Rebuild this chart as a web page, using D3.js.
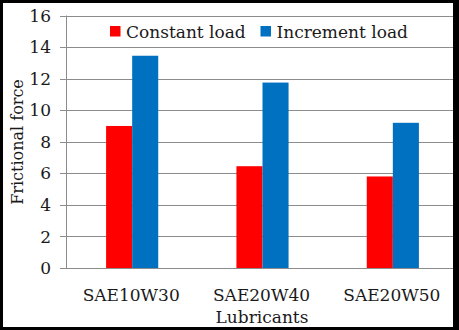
<!DOCTYPE html>
<html>
<head>
<meta charset="utf-8">
<script src="https://cdnjs.cloudflare.com/ajax/libs/d3/7.8.5/d3.min.js"></script>
<style>
  body { margin: 0; background: #fff; }
  svg { display: block; font-family: "DejaVu Serif", serif; }
</style>
</head>
<body>
<div id="chart"></div>
<script>
// chart data
const lubricants = ["SAE10W30", "SAE20W40", "SAE20W50"];
const seriesNames = ["Constant load", "Increment load"];
const constantLoad = [9.0, 6.45, 5.8];
const incrementLoad = [13.45, 11.75, 9.2];
const yTicks = [0, 2, 4, 6, 8, 10, 12, 14, 16];
const colors = ["#ff0000", "#0070c0"];

const width = 459, height = 330;

const svg = d3.select("#chart")
  .append("svg")
  .attr("width", width)
  .attr("height", height);

// scales
const x = d3.scaleBand()
  .domain(lubricants)
  .range([67, 458])
  .paddingInner(0.6)
  .paddingOuter(0.3);

const xSub = d3.scaleBand()
  .domain(seriesNames)
  .range([0, x.bandwidth()]);

const y = d3.scaleLinear()
  .domain([0, 16])
  .range([268, 15.5]);

// gridlines (they run past the axis as tick marks)
svg.append("g")
  .selectAll("line")
  .data(yTicks)
  .enter()
  .append("line")
  .attr("x1", 60)
  .attr("x2", 458)
  .attr("y1", d => Math.round(y(d)) + 0.5)
  .attr("y2", d => Math.round(y(d)) + 0.5)
  .attr("stroke", "#8c8c8c")
  .attr("stroke-width", 1);

// y axis line
svg.append("line")
  .attr("x1", 66.5).attr("x2", 66.5)
  .attr("y1", y(16)).attr("y2", y(0))
  .attr("stroke", "#8c8c8c");

// y tick labels
svg.append("g")
  .selectAll("text")
  .data(yTicks)
  .enter()
  .append("text")
  .attr("x", 51)
  .attr("y", d => y(d))
  .attr("dy", "0.36em")
  .attr("text-anchor", "end")
  .attr("font-size", 17)
  .attr("fill", "#1a1a1a")
  .text(d => d);

// bars
const rows = lubricants.map((c, i) => ({
  cat: c,
  vals: [constantLoad[i], incrementLoad[i]]
}));

const groups = svg.append("g")
  .selectAll("g")
  .data(rows)
  .enter()
  .append("g")
  .attr("transform", d => "translate(" + x(d.cat) + ",0)");

groups.selectAll("rect")
  .data(d => d.vals.map((v, j) => ({ name: seriesNames[j], v: v, j: j })))
  .enter()
  .append("rect")
  .attr("x", d => xSub(d.name))
  .attr("width", xSub.bandwidth())
  .attr("y", d => y(d.v))
  .attr("height", d => y(0) - y(d.v))
  .attr("fill", d => colors[d.j]);

// category labels
svg.append("g")
  .selectAll("text")
  .data(lubricants)
  .enter()
  .append("text")
  .attr("x", d => x(d) + x.bandwidth() / 2 - 1)
  .attr("y", 300.5)
  .attr("text-anchor", "middle")
  .attr("font-size", 17)
  .attr("fill", "#1a1a1a")
  .text(d => d);

// axis titles
svg.append("text")
  .attr("x", 262)
  .attr("y", 322.5)
  .attr("text-anchor", "middle")
  .attr("font-size", 17)
  .attr("fill", "#1a1a1a")
  .text("Lubricants");

svg.append("text")
  .attr("transform", "translate(22.5,142) rotate(-90)")
  .attr("text-anchor", "middle")
  .attr("font-size", 16)
  .attr("fill", "#1a1a1a")
  .text("Frictional force");

// legend
const legendX = [110, 260.5];
const legend = svg.append("g")
  .selectAll("g")
  .data(seriesNames)
  .enter()
  .append("g")
  .attr("transform", (d, i) => "translate(" + legendX[i] + ",26)");

legend.append("rect")
  .attr("width", 10.5)
  .attr("height", 10.5)
  .attr("fill", (d, i) => colors[i]);

legend.append("text")
  .attr("x", 16)
  .attr("y", 11.7)
  .attr("font-size", 17)
  .attr("fill", "#1a1a1a")
  .text(d => d);

// outer frame
const frame = svg.append("g").attr("fill", "#000");
frame.append("rect").attr("x", 0).attr("y", 0).attr("width", width).attr("height", 3);
frame.append("rect").attr("x", 0).attr("y", 0).attr("width", 3).attr("height", height);
frame.append("rect").attr("x", 0).attr("y", 327).attr("width", width).attr("height", 3);
frame.append("rect").attr("x", 453).attr("y", 0).attr("width", 6).attr("height", height);
</script>
</body>
</html>
